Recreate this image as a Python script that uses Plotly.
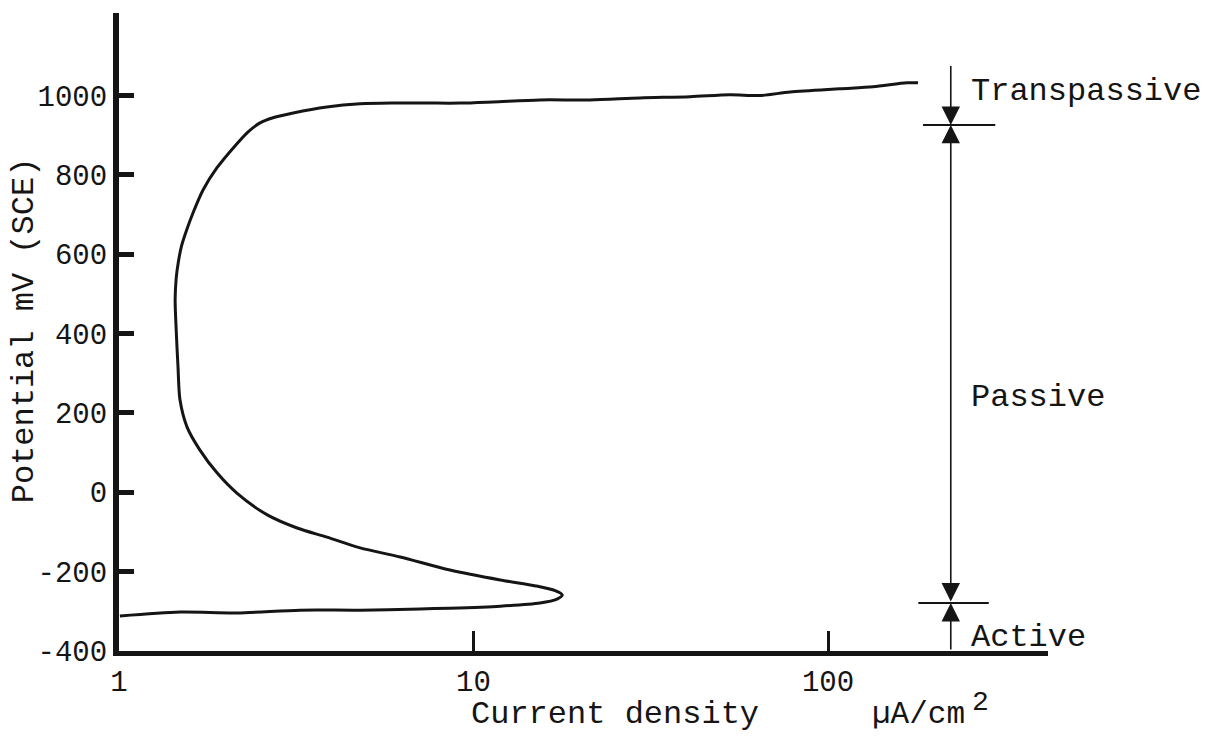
import numpy as np
import plotly.graph_objects as go

# Anodic polarization curve: current density (uA/cm^2) vs potential (mV vs SCE)
current_density = [
    1.006, 1.486, 2.15, 3.24, 4.79, 7.07, 8.58, 11.9, 15.4, 17.2, 17.8,
    17.0, 15.0, 11.9, 8.58, 6.21, 4.79, 3.86, 3.18, 2.62, 2.15,
    1.89, 1.69, 1.555, 1.486, 1.467, 1.45, 1.44, 1.45, 1.47, 1.50,
    1.55, 1.617, 1.726, 1.89, 2.10, 2.31, 2.50, 2.72, 3.10, 3.86, 4.79,
    5.93, 7.39, 9.16, 11.35, 15.4, 21.3, 29.5, 40.8, 52.9, 64.3, 78.2,
    108, 134, 167, 179.5,
]
potential = [
    -312, -302, -304, -297, -297, -294, -292, -287, -279, -269, -259,
    -248, -236, -221, -196, -163, -140, -113, -90, -57, -2,
    49, 107, 165, 233, 316, 409, 485, 540, 580, 620,
    660, 704, 762, 818, 868, 908, 931, 944, 956, 971, 979,
    981, 981, 981, 984, 989, 989, 994, 997, 1002, 1000, 1009,
    1017, 1022, 1032, 1032,
]

# Region boundaries (mV) and the current density where the region bar sits
region_bar_current = 222
region_bar_top = 1078
active_passive_limit = -279
passive_transpassive_limit = 926

x_ticks = [1, 10, 100]
y_ticks = [-400, -200, 0, 200, 400, 600, 800, 1000]
x_range = [0, 2.6206]
y_range = [-400, 1208]

INK = "#151515"
FONT = "Liberation Mono"

fig = go.Figure()

fig.add_trace(go.Scatter(
    x=current_density, y=potential, mode="lines",
    line=dict(color=INK, width=3, shape="spline", smoothing=0.8),
    hoverinfo="skip", showlegend=False,
))

# Short horizontal dividers across the region bar
for level, (lo, hi) in [
    (passive_transpassive_limit, (0.835, 1.335)),
    (active_passive_limit, (0.81, 1.28)),
]:
    fig.add_trace(go.Scatter(
        x=[region_bar_current * lo, region_bar_current * hi], y=[level, level],
        mode="lines", line=dict(color=INK, width=2),
        hoverinfo="skip", showlegend=False,
    ))

lx = np.log10(region_bar_current)
arrow_common = dict(
    xref="x", yref="y", axref="x", ayref="y", text="", showarrow=True,
    arrowcolor=INK, arrowwidth=1.6, arrowhead=2, arrowsize=2.3,
    startarrowhead=2, startarrowsize=2.3,
)
annotations = [
    # top segment, pointing down onto the transpassive limit
    dict(x=lx, y=passive_transpassive_limit, ax=lx, ay=region_bar_top,
         arrowside="end", **arrow_common),
    # passive span, arrows at both ends
    dict(x=lx, y=passive_transpassive_limit, ax=lx, ay=active_passive_limit,
         arrowside="end+start", **arrow_common),
    # bottom segment, pointing up onto the active limit
    dict(x=lx, y=active_passive_limit, ax=lx, ay=-400,
         arrowside="end", **arrow_common),
]

label_font = dict(family=FONT, size=32, color=INK)
for text, yv in [("Transpassive", 1009), ("Passive", 240), ("Active", -367)]:
    annotations.append(dict(
        x=np.log10(250), y=yv, xref="x", yref="y", text=text,
        showarrow=False, xanchor="left", yanchor="middle", font=label_font,
    ))

# Axis titles
annotations.append(dict(
    x=-0.102, y=0.503, xref="paper", yref="paper", text="Potential mV (SCE)",
    textangle=-90, showarrow=False, xanchor="center", yanchor="middle",
    font=label_font,
))
annotations.append(dict(
    x=0.534, y=-0.1, xref="paper", yref="paper", text="Current density",
    showarrow=False, xanchor="center", yanchor="middle", font=label_font,
))
annotations.append(dict(
    x=0.808, y=-0.1, xref="paper", yref="paper", text="µA/cm",
    showarrow=False, xanchor="left", yanchor="middle",
    font=dict(family=FONT, size=31, color=INK),
))
annotations.append(dict(
    x=0.916, y=-0.08, xref="paper", yref="paper", text="2",
    showarrow=False, xanchor="left", yanchor="middle",
    font=dict(family=FONT, size=28, color=INK),
))

fig.update_layout(
    width=1227, height=736,
    margin=dict(l=119, r=179, t=13, b=85),
    paper_bgcolor="white", plot_bgcolor="white",
    font=dict(family=FONT, color=INK),
    annotations=annotations,
    xaxis=dict(
        type="log", range=x_range, showgrid=False, zeroline=False,
        showline=True, linewidth=5, linecolor=INK,
        ticks="inside", ticklen=20, tickwidth=3, tickcolor=INK,
        tickvals=x_ticks, ticktext=[str(v) for v in x_ticks],
        tickfont=dict(family=FONT, size=29, color=INK),
    ),
    yaxis=dict(
        range=y_range, showgrid=False, zeroline=False,
        showline=True, linewidth=6, linecolor=INK,
        ticks="inside", ticklen=15, tickwidth=5, tickcolor=INK,
        tickvals=y_ticks, ticktext=[str(v) for v in y_ticks],
        tickfont=dict(family=FONT, size=29, color=INK),
    ),
)

fig.write_html("out.html")
